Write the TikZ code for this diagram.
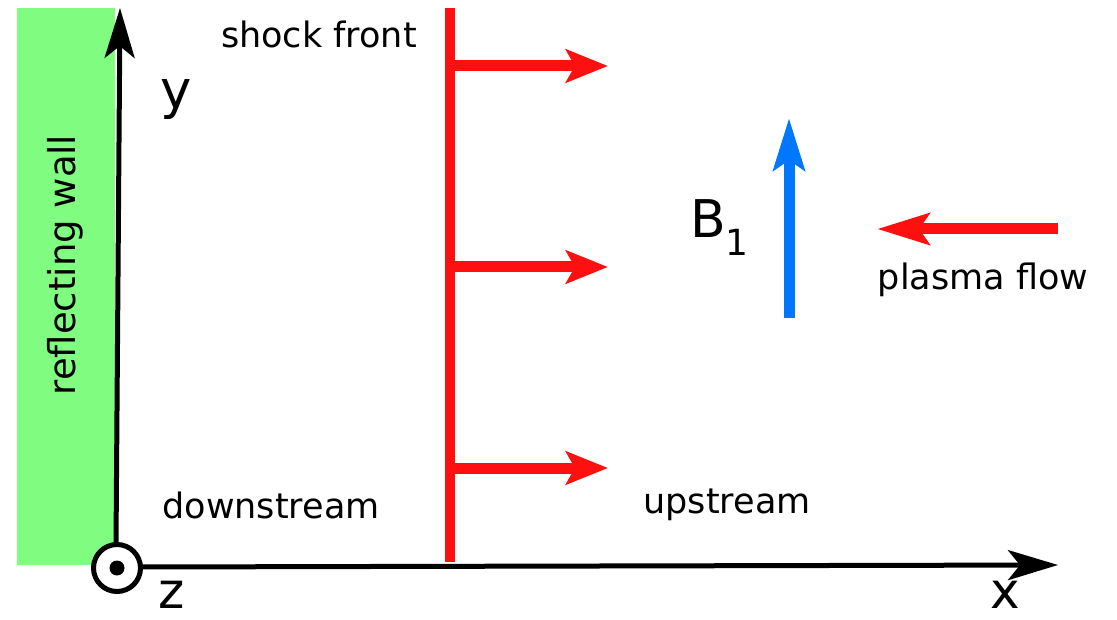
\documentclass[tikz,border=0pt]{standalone}
\usepackage{fontspec}
\setmainfont{DejaVu Sans}
\usetikzlibrary{arrows.meta}
\definecolor{wallgreen}{RGB}{128,252,128}
\definecolor{shockred}{RGB}{255,16,16}
\definecolor{fieldblue}{RGB}{0,119,255}
\tikzset{
  axis/.style={line width=5pt,-{Stealth[length=50pt,width=30pt,inset=12pt]}},
  redarrow/.style={shockred,line width=11pt,-{Stealth[length=42pt,width=33pt,inset=9pt]}},
  bigarrow/.style={line width=11pt,-{Stealth[length=52pt,width=31pt,inset=10pt]}},
  lbl/.style={font=\fontsize{35}{40}\selectfont,inner sep=0pt},
  axlbl/.style={font=\fontsize{53}{58}\selectfont,inner sep=0pt},
  botlbl/.style={font=\fontsize{50}{54}\selectfont,inner sep=0pt,anchor=base},
}
\begin{document}
\begin{tikzpicture}[x=1pt,y=-1pt]
\useasboundingbox (0,0) rectangle (1117,620);
% wall
\fill[wallgreen] (17,8) rectangle (115,565);
\node[lbl,rotate=90,font=\fontsize{37}{40}\selectfont] (wall) at (65,265) {reflecting wall};
% axes
\coordinate (o) at (117,568);
\coordinate (ytip) at (120,8);
\coordinate (xtip) at (1058,565);
\draw[axis] (116,545) -- (ytip);
\draw[axis] (140,567) -- (xtip);
\node[circle,draw,line width=5pt,minimum size=47pt,inner sep=0pt,fill=white] (zc) at (o) {};
\fill (o) circle (7.5pt);
\node[axlbl] (ylbl) at (176,100) {y};
\node[botlbl] (zlbl) at (172,608) {z};
\node[botlbl] (xlbl) at (1005,608) {x};
% shock front
\coordinate (sf1) at (450,8);
\coordinate (sf2) at (450,562);
\draw[shockred,line width=10pt] (sf1) -- (sf2);
\coordinate (a1) at (450,66);  \coordinate (t1) at (608,66);
\coordinate (a2) at (450,267); \coordinate (t2) at (608,267);
\coordinate (a3) at (450,468); \coordinate (t3) at (608,468);
\draw[redarrow] (a1) -- (t1);
\draw[redarrow] (a2) -- (t2);
\draw[redarrow] (a3) -- (t3);
\node[lbl] (shock) at (319,34) {shock front};
% field
\coordinate (b0) at (789,318);
\coordinate (b1) at (789,118);
\draw[bigarrow,fieldblue] (b0) -- (b1);
\node[inner sep=0pt,anchor=base west,font=\fontsize{52}{56}\selectfont] (blbl) at (690,238) {B\textsubscript{\fontsize{36}{40}\selectfont 1}};
% plasma flow
\coordinate (p0) at (1058,229);
\coordinate (p1) at (877,229);
\draw[bigarrow,shockred] (p0) -- (p1);
\node[lbl] (plasma) at (983,280) {plasma flow};
% regions
\node[lbl] (down) at (271,505) {downstream};
\node[lbl] (up) at (727,505) {upstream};
\end{tikzpicture}
\end{document}
